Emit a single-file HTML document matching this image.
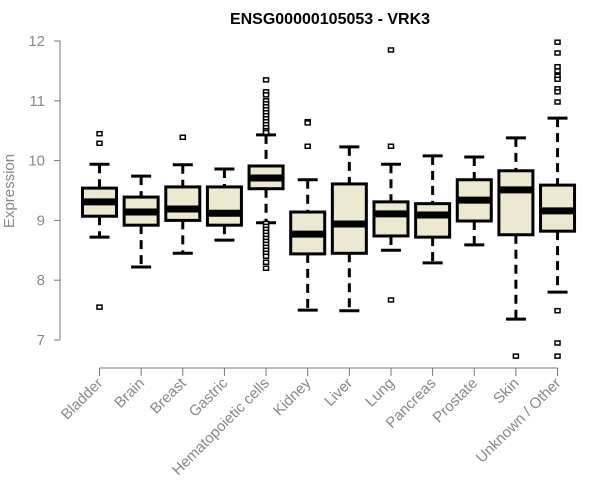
<!DOCTYPE html>
<html><head><meta charset="utf-8"><style>body{margin:0;background:#fff}svg{display:block}</style></head>
<body>
<svg id="chart" width="600" height="500" xmlns="http://www.w3.org/2000/svg" font-family="Liberation Sans, sans-serif"></svg>
<script>
const categories=["Bladder","Brain","Breast","Gastric","Hematopoietic cells","Kidney","Liver","Lung","Pancreas","Prostate","Skin","Unknown / Other"];
const lows=[8.72,8.22,8.45,8.67,8.96,7.5,7.49,8.5,8.29,8.59,7.35,7.8];
const q1s=[9.07,8.92,9.0,8.92,9.53,8.44,8.45,8.74,8.72,8.99,8.76,8.82];
const medians=[9.31,9.14,9.19,9.12,9.71,8.77,8.94,9.11,9.09,9.34,9.51,9.16];
const q3s=[9.54,9.39,9.56,9.56,9.91,9.14,9.61,9.31,9.28,9.68,9.83,9.59];
const highs=[9.94,9.74,9.93,9.86,10.43,9.68,10.23,9.94,10.08,10.06,10.38,10.71];
const outliers=[[10.45,10.29,7.55],[],[10.39],[],
[11.35,11.15,11.1,11.0,10.95,10.9,10.85,10.8,10.75,10.7,10.65,10.6,10.55,10.5,10.47,8.95,8.9,8.85,8.8,8.75,8.7,8.65,8.6,8.55,8.5,8.45,8.4,8.3,8.2],
[10.65,10.63,10.24],[],[11.85,10.24,7.67],[],[],[6.73],
[11.98,11.8,11.57,11.5,11.41,11.36,11.2,11.15,10.98,7.49,6.95,6.73]];
const yTicks=[7,8,9,10,11,12];
const svg=document.getElementById('chart');const NS='http://www.w3.org/2000/svg';
const y=v=>41+(12-v)*59.8;
const x=i=>99.5+i*41.64;
function mk(t,a,p){const e=document.createElementNS(NS,t);for(const k in a)e.setAttribute(k,a[k]);(p||svg).appendChild(e);return e;}
let t=mk('text',{x:330,y:24,'text-anchor':'middle','font-size':16,'font-weight':'bold'});t.textContent='ENSG00000105053 - VRK3';


let yt=mk('text',{x:0,y:0,transform:'translate(14,191) rotate(-90)','text-anchor':'middle','font-size':15,fill:'#888'});yt.textContent='Expression';


let ya=mk('path',{d:`M54 ${y(12)}H60V${y(7)}H54`,stroke:'#777',fill:'none'});


yTicks.forEach(v=>{mk('line',{x1:54,x2:60,y1:y(v),y2:y(v),stroke:'#777'});
const l=mk('text',{x:45,y:y(v)+5,'text-anchor':'end','font-size':15,fill:'#888'});l.textContent=v;

});
let xa=mk('line',{x1:x(0),x2:x(11),y1:368,y2:368,stroke:'#777'});


categories.forEach((c,i)=>{const cx=x(i);
mk('line',{x1:cx,x2:cx,y1:368,y2:376,stroke:'#777'});
const l=mk('text',{x:0,y:0,transform:`translate(${cx+4},384) rotate(-45)`,'text-anchor':'end','font-size':15,fill:'#888'});l.textContent=c;


const g=mk('g',{});


mk('line',{x1:cx,x2:cx,y1:y(highs[i]),y2:y(q3s[i]),stroke:'#000','stroke-width':3,'stroke-dasharray':'9,6'},g);
mk('line',{x1:cx,x2:cx,y1:y(q1s[i]),y2:y(lows[i]),stroke:'#000','stroke-width':3,'stroke-dasharray':'9,6'},g);
mk('line',{x1:cx-10,x2:cx+10,y1:y(highs[i]),y2:y(highs[i]),stroke:'#000','stroke-width':3},g);
mk('line',{x1:cx-10,x2:cx+10,y1:y(lows[i]),y2:y(lows[i]),stroke:'#000','stroke-width':3},g);
mk('rect',{x:cx-17,y:y(q3s[i]),width:34,height:y(q1s[i])-y(q3s[i]),fill:'#ede8d0',stroke:'#000','stroke-width':3},g);
mk('line',{x1:cx-17,x2:cx+17,y1:y(medians[i]),y2:y(medians[i]),stroke:'#000','stroke-width':7},g);
outliers[i].forEach(v=>{const o=mk('rect',{x:cx-2.5,y:y(v)-2,width:5,height:4,fill:'#fff',stroke:'#000','stroke-width':1.5},g);

});
});
</script>
</body></html>
